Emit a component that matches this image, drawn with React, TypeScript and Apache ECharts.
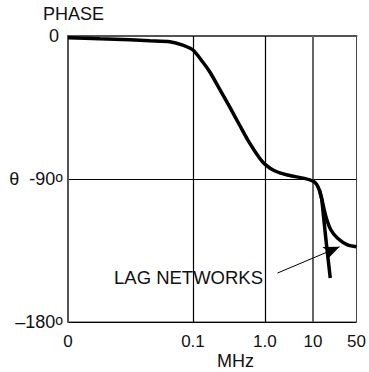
import React, { useEffect, useRef } from "react";
import * as echarts from "echarts";

// x-axis ticks (MHz); the "0" tick is drawn at 0.01 MHz
const tickLabels = ["0", "0.1", "1.0", "10", "50"];
const tickFreqs = [0.01, 0.1, 1, 10, 50];

// shared part of the phase curve (MHz, degrees)
const sharedFreq = [0.01, 0.018, 0.0313, 0.0451, 0.0652, 0.0828, 0.1, 0.136, 0.171, 0.235, 0.323, 0.445, 0.613, 0.844, 1.0, 1.585, 2.94, 6.61, 10, 11.3, 12.6, 13.8];
const sharedPhase = [-1.1, -1.8, -2.4, -3.0, -3.6, -5.7, -8.8, -16.2, -22.5, -33.4, -44.5, -56.0, -67.3, -76.8, -80.6, -84.8, -87.5, -89.6, -91.3, -93.1, -96.9, -102.6];

// steep branch (without lag networks)
const steepFreq = [16.0, 18.9];
const steepPhase = [-127.1, -152.3];

// branch with lag networks
const lagFreq = [16.1, 19.4, 24.8, 35.8, 50];
const lagPhase = [-113.7, -122.1, -127.3, -131.5, -132.6];

// y-axis ticks
const yTicks = [0, -90, -180];

// annotation arrow (MHz, degrees)
const arrowFrom = [1.83, -149.2];
const arrowTo = [26.7, -132.7];

// drawn width of each decade segment of the (hand-drawn) frequency axis
const SEGMENT_WIDTHS = [125.3, 72, 48.4, 43.6];
const CUM = SEGMENT_WIDTHS.reduce((acc: number[], w) => { acc.push(acc[acc.length - 1] + w); return acc; }, [0]);

function warp(f: number): number {
  for (let i = 0; i < tickFreqs.length - 1; i++) {
    const a = tickFreqs[i], b = tickFreqs[i + 1];
    if (f <= b || i === tickFreqs.length - 2) {
      const t = Math.log(f / a) / Math.log(b / a);
      return CUM[i] + t * SEGMENT_WIDTHS[i];
    }
  }
  return 0;
}

const toPts = (fs: number[], ps: number[]) => fs.map((f, i) => [warp(f), ps[i]]);

export default function App() {
  const ref = useRef<HTMLDivElement>(null);
  useEffect(() => {
    document.body.style.margin = "0";
    const chart = echarts.init(ref.current!, null, { renderer: "svg" });
    const font = "'Liberation Sans', Arial, Helvetica, sans-serif";
    const shared = toPts(sharedFreq, sharedPhase);
    const last = shared[shared.length - 1];
    const tickPos = tickFreqs.map(warp);
    const lineStyle = { color: "#000", width: 3.5 };
    chart.setOption({
      animation: false,
      grid: { left: 68, right: 12, top: 36, bottom: 50, show: true, borderColor: "#444", borderWidth: 1 },
      xAxis: {
        type: "value",
        min: 0,
        max: CUM[CUM.length - 1],
        axisLine: { show: true, lineStyle: { color: "#555", width: 2 } },
        axisTick: { show: false },
        splitLine: { show: false },
        axisLabel: {
          customValues: tickPos,
          margin: 11,
          fontSize: 17,
          fontFamily: font,
          color: "#111",
          showMinLabel: true,
          showMaxLabel: true,
          formatter: (v: number) => {
            let best = 0;
            tickPos.forEach((p, i) => { if (Math.abs(p - v) < Math.abs(tickPos[best] - v)) best = i; });
            return tickLabels[best];
          },
        },
      },
      yAxis: {
        type: "value",
        min: -180,
        max: 0,
        interval: 90,
        axisLine: { show: true, lineStyle: { color: "#555", width: 2 } },
        axisTick: { show: false },
        splitLine: { show: true, lineStyle: { color: "#000", width: 1 } },
        axisLabel: {
          margin: 5,
          fontSize: 18,
          fontFamily: font,
          color: "#111",
          formatter: (v: number) => {
            if (v === yTicks[0]) return "{z|0}";
            if (v === yTicks[1]) return "{t|θ  -90}{d|o}";
            return "{t|–180}{d|o}";
          },
          rich: {
            z: { fontSize: 18, fontFamily: font, color: "#111", padding: [0, 4, 0, 0] },
            t: { fontSize: 18, fontFamily: font, color: "#111" },
            d: { fontSize: 14, fontFamily: font, color: "#111", verticalAlign: "top" },
          },
        },
      },
      graphic: [
        { type: "text", left: 43, top: 5, style: { text: "PHASE", fontSize: 18, fontFamily: font, fill: "#111" } },
        { type: "text", left: 217, top: 352, style: { text: "MHz", fontSize: 18, fontFamily: font, fill: "#111" } },
        { type: "text", left: 114, top: 268, style: { text: "LAG NETWORKS", fontSize: 18.5, fontFamily: font, fill: "#111" } },
      ],
      series: [
        {
          type: "line",
          data: shared,
          showSymbol: false,
          smooth: 0.25,
          lineStyle,
          z: 5,
          markLine: {
            silent: true,
            symbol: "none",
            label: { show: false },
            z: 1,
            data: [
              { xAxis: tickPos[1], lineStyle: { color: "#000", width: 1.2, type: "solid" } },
              { xAxis: tickPos[2], lineStyle: { color: "#000", width: 1.2, type: "solid" } },
              { xAxis: tickPos[3], lineStyle: { color: "#666", width: 2, type: "solid" } },
            ],
          },
        },
        {
          type: "line",
          data: [last, ...toPts(steepFreq, steepPhase)],
          showSymbol: false,
          smooth: 0.2,
          lineStyle,
          z: 5,
        },
        {
          type: "line",
          data: [shared[shared.length - 2], last, ...toPts(lagFreq, lagPhase)],
          showSymbol: false,
          smooth: 0.3,
          lineStyle,
          z: 5,
          markLine: {
            silent: true,
            symbol: ["none", "arrow"],
            symbolSize: [10, 16],
            label: { show: false },
            lineStyle: { color: "#000", width: 1, type: "solid" },
            data: [[{ coord: [warp(arrowFrom[0]), arrowFrom[1]] }, { coord: [warp(arrowTo[0]), arrowTo[1]] }]],
          },
        },
      ],
    });
    return () => chart.dispose();
  }, []);
  return <div ref={ref} style={{ width: 369, height: 372 }} />;
}
